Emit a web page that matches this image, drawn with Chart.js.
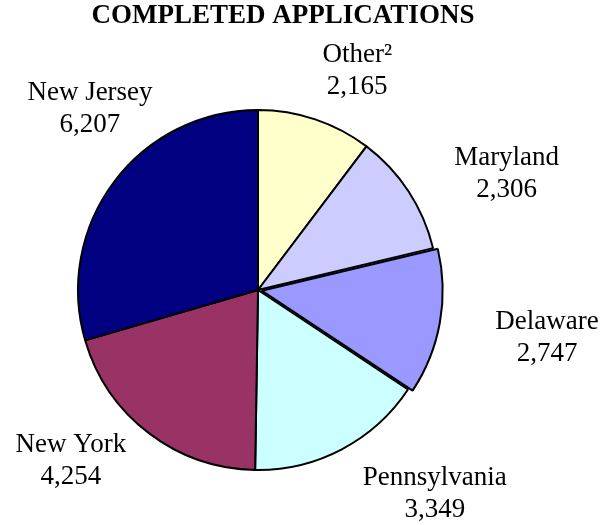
<!DOCTYPE html>
<html>
<head>
<meta charset="utf-8">
<script src="https://cdn.jsdelivr.net/npm/chart.js@4.4.1/dist/chart.umd.min.js"></script>
<style>
  html, body { margin: 0; padding: 0; background: #fff; }
  #wrap { width: 610px; height: 525px; }
</style>
</head>
<body>
<div id="wrap"><canvas id="pieChart" width="610" height="525"></canvas></div>
<script>
const titleText = "COMPLETED APPLICATIONS";
const states = ["Other²", "Maryland", "Delaware", "Pennsylvania", "New York", "New Jersey"];
const applications = [2165, 2306, 2747, 3349, 4254, 6207];
const sliceColors = ["#FFFFCC", "#CCCCFF", "#9999FF", "#CCFFFF", "#993366", "#000080"];
const explode = [0, 0, 15, 0, 0, 0];

// nudge of each label block from the point on the rim at the slice middle
const labelNudge = [[42, -48], [98, -18], [97, 14], [93, 45], [-78, 28], [-24, -73]];

const serif = '"Times New Roman", "Liberation Serif", serif';

const labelPlugin = {
  id: "sliceLabels",
  afterDraw(chart) {
    const ctx = chart.ctx;
    const meta = chart.getDatasetMeta(0);
    ctx.save();
    ctx.fillStyle = "#000";
    ctx.textAlign = "center";
    ctx.textBaseline = "middle";
    ctx.font = "27px " + serif;
    meta.data.forEach((arc, i) => {
      const p = arc.getProps(["x", "y", "startAngle", "endAngle", "outerRadius"], true);
      const mid = (p.startAngle + p.endAngle) / 2;
      const r = p.outerRadius + (arc.options.offset || 0);
      const x = p.x + Math.cos(mid) * r + labelNudge[i][0];
      const y = p.y + Math.sin(mid) * r + labelNudge[i][1];
      ctx.fillText(states[i], x, y - 16);
      ctx.fillText(applications[i].toLocaleString("en-US"), x, y + 16);
    });
    ctx.font = "bold 27px " + serif;
    ctx.fillText(titleText, 283, 16);
    ctx.restore();
  }
};

new Chart(document.getElementById("pieChart").getContext("2d"), {
  type: "pie",
  data: {
    labels: states,
    datasets: [{
      data: applications,
      backgroundColor: sliceColors,
      borderColor: "#000",
      borderWidth: 2,
      offset: explode,
      hoverOffset: 0
    }]
  },
  options: {
    responsive: false,
    animation: false,
    radius: 180,
    layout: { padding: { left: 0, right: 94, top: 55, bottom: 0 } },
    plugins: {
      legend: { display: false },
      tooltip: { enabled: false },
      title: { display: false }
    },
    events: []
  },
  plugins: [labelPlugin]
});
</script>
</body>
</html>
